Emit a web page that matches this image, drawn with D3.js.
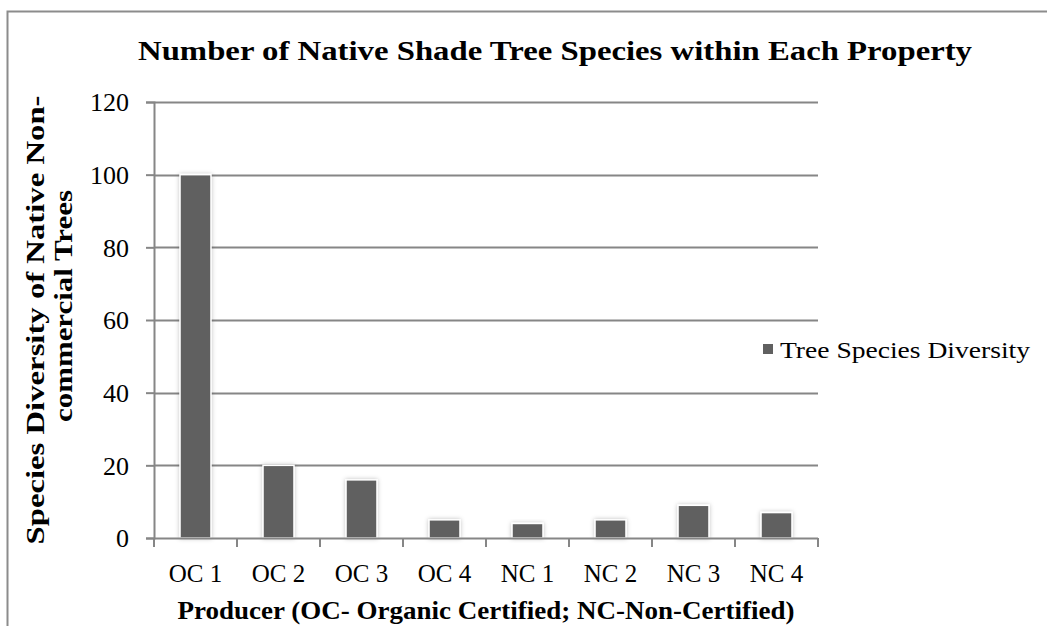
<!DOCTYPE html>
<html>
<head>
<meta charset="utf-8">
<script src="https://cdn.jsdelivr.net/npm/d3@7"></script>
<style>
  html, body { margin: 0; padding: 0; background: #fff; }
  svg { display: block; }
  text { font-family: "Liberation Serif", "DejaVu Serif", serif; fill: #000; }
</style>
</head>
<body>
<svg id="chart" width="1047" height="626"></svg>
<script>
const categories = ["OC 1", "OC 2", "OC 3", "OC 4", "NC 1", "NC 2", "NC 3", "NC 4"];
const values = [100, 20, 16, 5, 4, 5, 9, 7];
const yTicks = [0, 20, 40, 60, 80, 100, 120];
const seriesName = "Tree Species Diversity";
const titleText = "Number of Native Shade Tree Species within Each Property";
const xTitle = "Producer (OC- Organic Certified; NC-Non-Certified)";
const yTitleLines = ["Species Diversity of Native Non-", "commercial Trees"];

const svg = d3.select("#chart");
const plot = { left: 154, right: 818, top: 102, bottom: 538 };

const defs = svg.append("defs");
const f = defs.append("filter").attr("id", "shadow")
  .attr("x", "-30%").attr("y", "-30%").attr("width", "160%").attr("height", "160%");
f.append("feDropShadow").attr("dx", 0).attr("dy", 0).attr("stdDeviation", 2)
  .attr("flood-color", "#000").attr("flood-opacity", 0.25);

// outer frame
svg.append("path")
  .attr("d", "M7.5,626 L7.5,11.5 L1047,11.5")
  .attr("fill", "none").attr("stroke", "#8c8c8c").attr("stroke-width", 2);

const x = d3.scaleBand().domain(categories).range([plot.left, plot.right]).padding(0);
const y = d3.scaleLinear().domain([0, 120]).range([plot.bottom, plot.top]);

// gridlines
svg.append("g").selectAll("line").data(yTicks.filter(d => d > 0)).join("line")
  .attr("x1", plot.left).attr("x2", plot.right)
  .attr("y1", d => Math.round(y(d)) + 0.5).attr("y2", d => Math.round(y(d)) + 0.5)
  .attr("stroke", "#868686").attr("stroke-width", 2);

// y axis
const yAxis = svg.append("g").attr("transform", `translate(${plot.left},0)`)
  .call(d3.axisLeft(y).tickValues(yTicks).tickSize(8).tickPadding(17).tickFormat(d3.format("d")));
yAxis.select(".domain").attr("stroke", "#868686").attr("stroke-width", 2);
yAxis.selectAll(".tick line").attr("stroke", "#868686").attr("stroke-width", 2);
yAxis.selectAll(".tick text").style("font-family", "Liberation Serif").style("font-size", "26px")
  .attr("dy", "0.34em").attr("fill", "#000");

// bars
const barW = x.bandwidth() * 0.373;
svg.append("g").selectAll("rect").data(values).join("rect")
  .attr("x", (d, i) => x(categories[i]) + (x.bandwidth() - barW) / 2)
  .attr("y", d => y(d))
  .attr("width", barW)
  .attr("height", d => y(0) - y(d))
  .attr("fill", "#606060")
  .attr("stroke", "#ffffff").attr("stroke-width", 1.5)
  .attr("filter", "url(#shadow)");

// x axis
const xAxisG = svg.append("g").attr("transform", `translate(0,${plot.bottom})`);
xAxisG.append("line").attr("x1", plot.left).attr("x2", plot.right).attr("y1", 0.5).attr("y2", 0.5)
  .attr("stroke", "#868686").attr("stroke-width", 2);
const boundaries = categories.map(c => x(c)).concat([plot.right]);
xAxisG.selectAll("line.tk").data(boundaries).join("line").attr("class", "tk")
  .attr("x1", d => d).attr("x2", d => d).attr("y1", 0).attr("y2", 9)
  .attr("stroke", "#868686").attr("stroke-width", 2);
xAxisG.selectAll("text").data(categories).join("text")
  .attr("x", d => x(d) + x.bandwidth() / 2)
  .attr("y", 44)
  .attr("text-anchor", "middle")
  .style("font-size", "25px")
  .text(d => d);

// title
svg.append("text")
  .attr("x", 555).attr("y", 60)
  .attr("text-anchor", "middle")
  .style("font-size", "28px").style("font-weight", "bold")
  .attr("textLength", 834).attr("lengthAdjust", "spacingAndGlyphs")
  .text(titleText);

// x title
svg.append("text")
  .attr("x", (plot.left + plot.right) / 2).attr("y", 619)
  .attr("text-anchor", "middle")
  .style("font-size", "25px").style("font-weight", "bold")
  .attr("textLength", 617).attr("lengthAdjust", "spacingAndGlyphs")
  .text(xTitle);

// y title
const yt = svg.append("g").attr("transform", "translate(0,320) rotate(-90)");
yt.append("text").attr("x", 0).attr("y", 44)
  .attr("text-anchor", "middle")
  .style("font-size", "25px").style("font-weight", "bold")
  .attr("textLength", 449).attr("lengthAdjust", "spacingAndGlyphs")
  .text(yTitleLines[0]);
yt.append("text").attr("x", 14).attr("y", 72)
  .attr("text-anchor", "middle")
  .style("font-size", "25px").style("font-weight", "bold")
  .attr("textLength", 232).attr("lengthAdjust", "spacingAndGlyphs")
  .text(yTitleLines[1]);

// legend
const lg = svg.append("g");
lg.append("rect").attr("x", 763).attr("y", 344).attr("width", 10).attr("height", 10).attr("fill", "#606060");
lg.append("text").attr("x", 780).attr("y", 358)
  .style("font-size", "23px")
  .attr("textLength", 250).attr("lengthAdjust", "spacingAndGlyphs")
  .text(seriesName);
</script>
</body>
</html>
